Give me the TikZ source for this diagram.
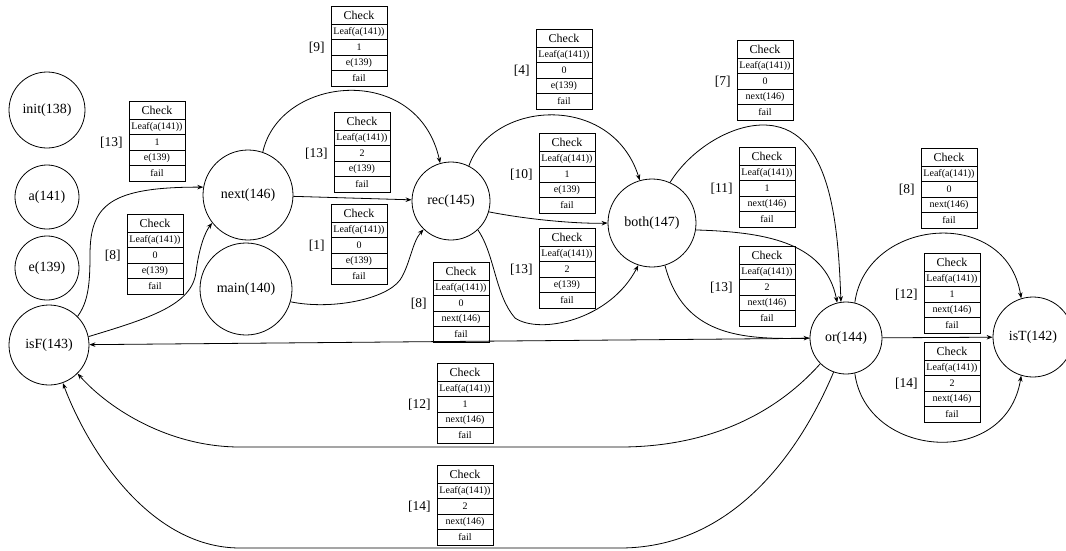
\documentclass[tikz,border=0pt]{standalone}
\usepackage{fontspec}
\setmainfont{Liberation Serif}
\usetikzlibrary{positioning,arrows.meta}
\begin{document}
\begin{tikzpicture}[x=1pt,y=-1pt,>={Stealth[length=6pt,width=4.5pt]},line width=0.8pt,
 st/.style={circle,draw,inner sep=0pt,font=\fontsize{14}{16}\selectfont},
 chkhead/.style={draw,minimum width=56pt,minimum height=18pt,inner sep=0pt,outer sep=0pt,font=\fontsize{12}{14}\selectfont},
 chkrow/.style={draw,minimum width=56pt,minimum height=15.5pt,inner sep=0pt,outer sep=0pt,font=\fontsize{10}{11}\selectfont},
 lbl/.style={inner sep=0pt,font=\fontsize{13.5}{15}\selectfont}]
\useasboundingbox (0,0) rectangle (1066,550);
% states
\node[st,minimum size=76pt] (init) at (47,110) {init(138)};
\node[st,minimum size=64pt] (a) at (47,197) {a(141)};
\node[st,minimum size=64pt] (e) at (47,268) {e(139)};
\node[st,minimum size=80pt] (isF) at (49,345) {isF(143)};
\node[st,minimum size=90pt] (next) at (248,195) {next(146)};
\node[st,minimum size=92pt] (main) at (246,289) {main(140)};
\node[st,minimum size=78pt] (rec) at (451,201) {rec(145)};
\node[st,minimum size=88pt] (both) at (652,223) {both(147)};
\node[st,minimum size=72pt] (or) at (846,338) {or(144)};
\node[st,minimum size=80pt] (isT) at (1033,337) {isT(142)};
% check tables
\foreach \n/\x/\y/\lab/\val/\tgt in {1/129/101/13/1/e(139), 2/127/214/8/0/e(139),
  3/331/6/9/1/e(139), 4/334/112/13/2/e(139), 5/331/204/1/0/e(139),
  6/536/29/4/0/e(139), 7/539/133/10/1/e(139), 8/539/228/13/2/e(139),
  9/433/262/8/0/next(146), 10/437/363/12/1/next(146), 11/437/465/14/2/next(146),
  12/737/40/7/0/next(146), 13/739/147/11/1/next(146), 14/739/246/13/2/next(146),
  15/921/148/8/0/next(146), 16/924/253/12/1/next(146), 17/924/342/14/2/next(146)}{
  \node[chkhead,anchor=north west] (chk\n) at (\x,\y) {Check};
  \node[chkrow,below=0pt of chk\n] (chk\n-a) {Leaf(a(141))};
  \node[chkrow,below=0pt of chk\n-a] (chk\n-b) {\val};
  \node[chkrow,below=0pt of chk\n-b] (chk\n-c) {\tgt};
  \node[chkrow,below=0pt of chk\n-c] (chk\n-d) {fail};
  \node[lbl,left=6pt of chk\n-b] (lbl\n) {[\lab]};
}
% transitions
\draw[->] (isF.45) .. controls (88,302) and (90,285) .. (90,255) .. controls (90,205) and (110,187) .. (next.170);
\draw[->] (isF.12) .. controls (150,318) and (192,305) .. (196,272) .. controls (199,248) and (205,232) .. (next.218);
\draw[->] (next) -- (rec);
\draw[->] (next.71) .. controls (280,75) and (418,62) .. (rec.106);
\draw[->] (main.-16) .. controls (330,310) and (385,300) .. (400,280) .. controls (410,265) and (412,242) .. (rec.226);
\draw[->] (rec.-16) .. controls (530,220) and (580,224) .. (both.180);
\draw[->] (rec.63) .. controls (492,100) and (612,92) .. (both.106);
\draw[->] (rec.-47) .. controls (495,255) and (495,295) .. (515,318) .. controls (540,335) and (610,320) .. (both.252);
\draw[->] (both.66) .. controls (690,150) and (730,125) .. (763,125) .. controls (830,125) and (838,220) .. (or.98);
\draw[->] (both.-9) .. controls (760,232) and (825,240) .. (or.104);
\draw[->] (both.-73) .. controls (683,335) and (740,340) .. (or.180);
\draw[->] (or) -- (isF);
\draw[->] (or.225) .. controls (770,420) and (700,447) .. (620,447) -- (240,447) .. controls (170,447) and (110,410) .. (isF.-45);
\draw[->] (or.250) .. controls (805,440) and (740,548) .. (620,548) -- (240,548) .. controls (150,548) and (88,450) .. (isF.-70);
\draw[->] (or) -- (isT);
\draw[->] (or.76) .. controls (866,218) and (1006,205) .. (isT.107);
\draw[->] (or.-76) .. controls (866,458) and (1006,470) .. (isT.-107);
\end{tikzpicture}
\end{document}
